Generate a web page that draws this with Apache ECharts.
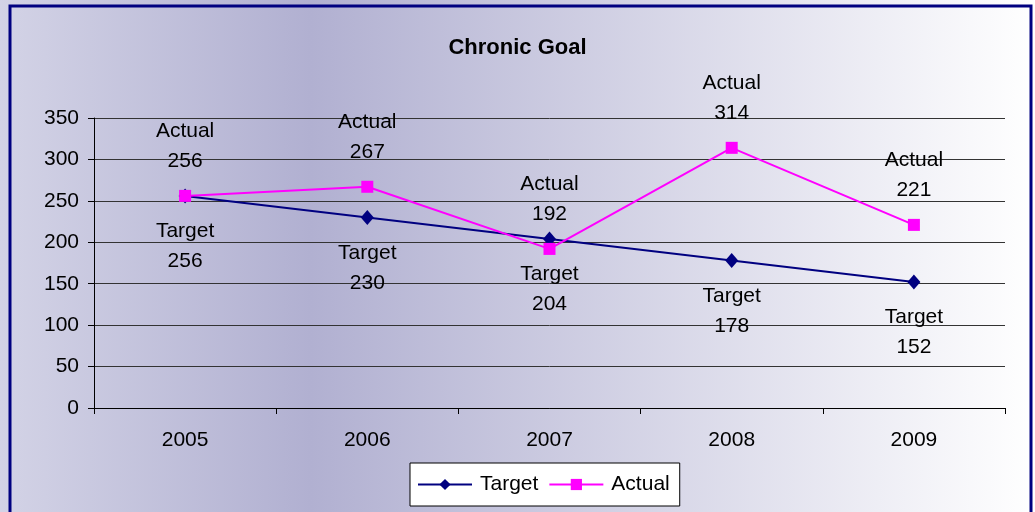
<!DOCTYPE html>
<html>
<head>
<meta charset="utf-8">
<script src="https://cdn.jsdelivr.net/npm/echarts@6/dist/echarts.min.js"></script>
<style>
  html, body { margin: 0; padding: 0; }
  #main { width: 1035px; height: 512px; }
</style>
</head>
<body>
<div id="main"></div>
<script>
var years = ['2005', '2006', '2007', '2008', '2009'];
var targetValues = [256, 230, 204, 178, 152];
var actualValues = [256, 267, 192, 314, 221];

var FONT = '"Liberation Sans", Arial, sans-serif';

var chart = echarts.init(document.getElementById('main'));

var option = {
  animation: false,
  backgroundColor: {
    type: 'linear', x: 0, y: 0, x2: 1, y2: 0,
    colorStops: [
      { offset: 0, color: '#d3d3e6' },
      { offset: 0.3, color: '#b1b0d1' },
      { offset: 1, color: '#ffffff' }
    ]
  },
  textStyle: { fontFamily: FONT },
  graphic: [{
    type: 'rect',
    shape: { x: 10, y: 6, width: 1021, height: 520 },
    style: { fill: 'none', stroke: '#000080', lineWidth: 3 },
    silent: true
  }],
  title: {
    text: 'Chronic Goal',
    left: 'center',
    top: 32,
    textStyle: { fontFamily: FONT, fontSize: 22, fontWeight: 'bold', color: '#000' }
  },
  legend: {
    bottom: 6,
    left: 410,
    data: ['Target', 'Actual'],
    backgroundColor: '#fff',
    borderColor: '#000',
    borderWidth: 1,
    borderRadius: 0,
    padding: [11, 10, 11, 7],
    itemGap: 10,
    itemWidth: 54,
    itemHeight: 14,
    textStyle: { fontFamily: FONT, fontSize: 21, color: '#000', padding: [0, 0, 0, 3] }
  },
  grid: { left: 94, right: 30, top: 118, bottom: 104 },
  xAxis: {
    type: 'category',
    data: years,
    boundaryGap: true,
    axisLine: { lineStyle: { color: '#000', width: 1 } },
    axisTick: { show: true, length: 6, inside: false, lineStyle: { color: '#000' } },
    axisLabel: { fontFamily: FONT, fontSize: 21, color: '#000', margin: 22 }
  },
  yAxis: {
    type: 'value',
    min: 0,
    max: 350,
    interval: 50,
    axisLine: { show: true, lineStyle: { color: '#000', width: 1 } },
    axisTick: { show: true, length: 6, lineStyle: { color: '#000' } },
    axisLabel: { fontFamily: FONT, fontSize: 21, color: '#000', margin: 15 },
    splitLine: { show: true, lineStyle: { color: '#333', width: 1 } }
  },
  series: [
    {
      name: 'Target',
      type: 'line',
      data: targetValues,
      symbol: 'diamond',
      symbolSize: [13, 15],
      showAllSymbol: true,
      lineStyle: { color: '#000080', width: 2 },
      itemStyle: { color: '#000080' },
      label: {
        show: true,
        position: 'bottom',
        distance: 13,
        fontFamily: FONT,
        fontSize: 21,
        lineHeight: 30,
        color: '#000',
        formatter: function (p) { return 'Target\n' + p.value; }
      },
      z: 2
    },
    {
      name: 'Actual',
      type: 'line',
      data: actualValues,
      symbol: 'rect',
      symbolSize: 12,
      showAllSymbol: true,
      lineStyle: { color: '#ff00ff', width: 2 },
      itemStyle: { color: '#ff00ff' },
      label: {
        show: true,
        position: 'top',
        distance: 14,
        fontFamily: FONT,
        fontSize: 21,
        lineHeight: 30,
        color: '#000',
        formatter: function (p) { return 'Actual\n' + p.value; }
      },
      z: 3
    }
  ]
};

chart.setOption(option);
</script>
</body>
</html>
